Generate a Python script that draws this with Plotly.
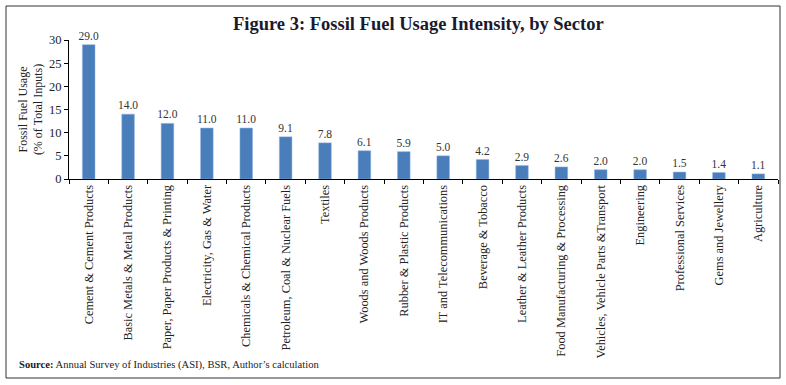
import plotly.graph_objects as go

categories = [
    "Cement & Cement Products",
    "Basic Metals & Metal Products",
    "Paper, Paper Products & Printing",
    "Electricity, Gas & Water",
    "Chemicals & Chemical Products",
    "Petroleum, Coal & Nuclear Fuels",
    "Textiles",
    "Woods and Woods Products",
    "Rubber & Plastic Products",
    "IT and Telecommunications",
    "Beverage & Tobacco",
    "Leather & Leather Products",
    "Food Manufacturing & Processing",
    "Vehicles, Vehicle Parts &Transport",
    "Engineering",
    "Professional Services",
    "Gems and Jewellery",
    "Agriculture",
]
values = [29.0, 14.0, 12.0, 11.0, 11.0, 9.1, 7.8, 6.1, 5.9, 5.0, 4.2, 2.9, 2.6, 2.0, 2.0, 1.5, 1.4, 1.1]
y_ticks = [0, 5, 10, 15, 20, 25, 30]

FONT = "Liberation Serif"
W, H = 786, 385
L, R, T, B = 69, 8, 40, 206
pw, ph = W - L - R, H - T - B

def px(x):
    return (x - L) / pw

def py(y):
    return (H - B - y) / ph

fig = go.Figure(go.Bar(
    x=categories, y=values,
    marker=dict(color="#4a7ebb", line=dict(color="#8db3e2", width=0.5)),
    width=0.32,
    text=[f"{v:.1f}" for v in values],
    textposition="outside",
    constraintext="none",
    textfont=dict(family=FONT, size=11.5, color="#333333"),
    cliponaxis=False,
))

fig.update_layout(
    width=W, height=H,
    margin=dict(l=L, r=R, t=T, b=B),
    paper_bgcolor="white", plot_bgcolor="white",
    font=dict(family=FONT, color="#222222"),
    showlegend=False,
    xaxis=dict(
        showline=True, linecolor="black", linewidth=1,
        ticks="outside", ticklen=4, tickcolor="black", tickson="boundaries",
        tickangle=-90, tickfont=dict(family=FONT, size=12.4, color="#222222"),
        showgrid=False,
    ),
    yaxis=dict(
        range=[0, 30], tickvals=y_ticks,
        showline=True, linecolor="black", linewidth=1,
        ticks="outside", ticklen=4, tickcolor="black",
        tickfont=dict(family=FONT, size=12.5, color="#222222"),
        showgrid=False, zeroline=False,
        title=dict(text="Fossil Fuel Usage<br>(% of Total Inputs)",
                   font=dict(family=FONT, size=12, color="#222222"), standoff=3),
    ),
    shapes=[dict(type="rect", xref="paper", yref="paper",
                 x0=px(6), x1=px(780), y0=py(378), y1=py(6),
                 line=dict(color="#333333", width=1))],
    annotations=[
        dict(text="<b>Figure 3: Fossil Fuel Usage Intensity, by Sector</b>",
             xref="paper", yref="paper", x=px(418), y=py(24),
             xanchor="center", yanchor="middle", showarrow=False,
             font=dict(family=FONT, size=18.5, color="#1a1a2e")),
        dict(text="<b>Source:</b> Annual Survey of Industries (ASI), BSR, Author’s calculation",
             xref="paper", yref="paper", x=px(17), y=py(365),
             xanchor="left", yanchor="middle", showarrow=False,
             font=dict(family=FONT, size=10.6, color="#222222")),
    ],
)

fig.write_html("out.html", config={"displayModeBar": False},
               post_script="document.body.style.margin='0';")
